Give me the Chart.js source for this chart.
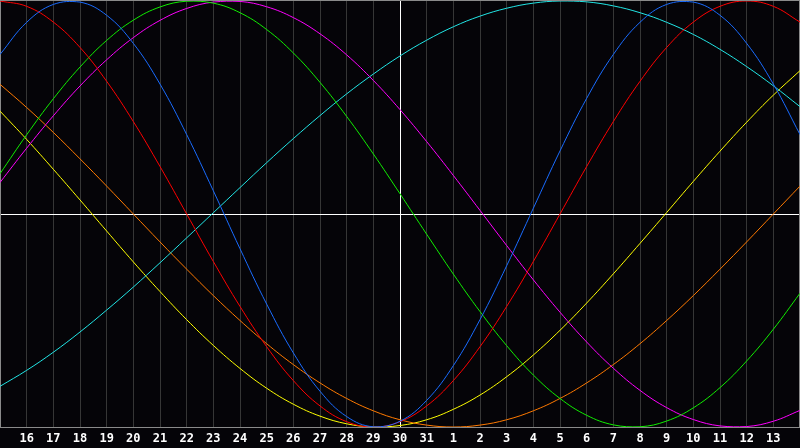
<!DOCTYPE html>
<html>
<head>
<meta charset="utf-8">
<script src="https://cdn.jsdelivr.net/npm/chart.js@4.4.1/dist/chart.umd.min.js"></script>
<style>
  html, body { margin: 0; padding: 0; background: #050408; }
  #wrap { width: 800px; height: 448px; }
</style>
</head>
<body>
<div id="wrap"><canvas id="bio" width="800" height="448"></canvas></div>
<script>
// day labels along the bottom (today = 30, in the middle)
var days = [15,16,17,18,19,20,21,22,23,24,25,26,27,28,29,30,31,1,2,3,4,5,6,7,8,9,10,11,12,13,14];

// cycle values in percent, one per day
var physical     = [74.9,90.0,98.4,99.5,93.3,80.1,61.0,37.3,10.9,-16.3,-42.3,-65.2,-83.2,-95.1,-99.9,-97.3,-87.5,-71.2,-49.6,-24.3,2.7,29.6,54.3,74.9,90.0,98.4,99.5,93.3,80.1,61.0,37.3];
var emotional    = [100,97.5,90.1,78.2,62.3,43.4,22.3,0,-22.3,-43.4,-62.3,-78.2,-90.1,-97.5,-100,-97.5,-90.1,-78.2,-62.3,-43.4,-22.3,0,22.3,43.4,62.3,78.2,90.1,97.5,100,97.5,90.1];
var intellectual = [18.9,37.2,54.1,69.0,81.5,91.0,97.2,99.9,99.0,94.5,86.6,75.6,61.8,45.8,28.2,9.5,-9.5,-28.2,-45.8,-61.8,-75.6,-86.6,-94.5,-99.0,-99.9,-97.2,-91.0,-81.5,-69.0,-54.1,-37.2];
var intuitive    = [14.8,30.9,46.1,60.1,72.4,82.8,90.9,96.5,99.5,99.8,97.3,92.2,84.6,74.7,62.7,49.0,34.0,18.1,1.7,-14.8,-30.9,-46.1,-60.1,-72.4,-82.8,-90.9,-96.5,-99.5,-99.8,-97.3,-92.2];
var spiritual    = [-80.9,-73.4,-64.9,-55.4,-45.1,-34.3,-22.9,-11.2,0.6,12.4,24.1,35.4,46.2,56.4,65.7,74.2,81.6,87.9,92.9,96.6,99.0,100,99.6,97.7,94.5,90.0,84.3,77.3,69.2,60.2,50.4];
var awareness    = [60.9,50,38.3,25.9,13.1,0,-13.1,-25.9,-38.3,-50,-60.9,-70.7,-79.3,-86.6,-92.4,-96.6,-99.1,-100,-99.1,-96.6,-92.4,-86.6,-79.3,-70.7,-60.9,-50,-38.3,-25.9,-13.1,0,13.1];
var aesthetic    = [48.3,35.0,21.0,6.6,-8.0,-22.5,-36.4,-49.6,-61.7,-72.5,-81.8,-89.3,-94.9,-98.5,-100,-99.3,-96.6,-91.7,-85.0,-76.4,-66.2,-54.6,-41.8,-28.1,-13.8,0.7,15.3,29.5,43.1,55.8,67.3];

var names  = ["Physical","Emotional","Intellectual","Intuitive","Spiritual","Awareness","Aesthetic"];
var series = [physical, emotional, intellectual, intuitive, spiritual, awareness, aesthetic];
var colors = ["#1a6cff","#ff0000","#11ee00","#ff00ff","#22e6e6","#ff7a00","#ffff00"];

var sets = [];
for (var i = 0; i < series.length; i++) {
  sets.push({
    label: names[i],
    data: series[i],
    borderColor: colors[i],
    borderWidth: 1,
    pointRadius: 0,
    pointHoverRadius: 0,
    pointHitRadius: 0,
    tension: 0.4,
    fill: false
  });
}

// gray frame round the plot, under the curves
var frame = {
  id: 'frame',
  beforeDatasetsDraw: function(chart) {
    var a = chart.chartArea, c = chart.ctx;
    c.save();
    c.strokeStyle = '#8a8a8a';
    c.lineWidth = 1;
    c.strokeRect(a.left + 0.5, a.top - 0.5, a.right - a.left - 1, a.bottom - a.top + 1);
    c.restore();
  }
};

new Chart(document.getElementById('bio'), {
  type: 'line',
  data: { labels: days, datasets: sets },
  options: {
    responsive: false,
    animation: false,
    events: [],
    layout: { padding: { top: 1, bottom: -3, left: 0, right: 0 } },
    plugins: { legend: { display: false }, tooltip: { enabled: false } },
    scales: {
      x: {
        type: 'category',
        offset: false,
        border: { display: false },
        grid: {
          drawTicks: false,
          lineWidth: 1,
          color: function(ctx) { return ctx.index === 15 ? '#ffffff' : '#363636'; }
        },
        ticks: {
          autoSkip: false,
          maxRotation: 0,
          padding: 0,
          color: '#ffffff',
          font: { family: 'DejaVu Sans Mono', weight: 'bold', size: 12, lineHeight: '24px' },
          callback: function(v, i) { return (i === 0 || i === days.length - 1) ? '' : days[i]; }
        }
      },
      y: {
        min: -100,
        max: 100,
        border: { display: false },
        grid: {
          drawTicks: false,
          color: function(ctx) { return ctx.tick.value === 0 ? '#ffffff' : 'rgba(0,0,0,0)'; }
        },
        ticks: { display: false, stepSize: 50 }
      }
    }
  },
  plugins: [frame]
});
</script>
</body>
</html>
